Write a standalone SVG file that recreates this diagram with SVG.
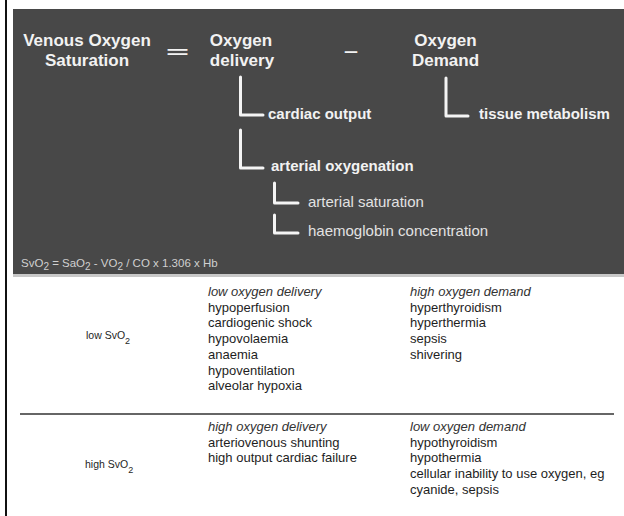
<svg xmlns="http://www.w3.org/2000/svg" width="624" height="516" viewBox="0 0 624 516">
<style>
.hd{font-family:"Liberation Sans",Arial,sans-serif;font-weight:bold;font-size:17px;fill:#f2f2f2;}
.b15{font-family:"Liberation Sans",Arial,sans-serif;font-weight:bold;font-size:15px;fill:#f2f2f2;}
.r15{font-family:"Liberation Sans",Arial,sans-serif;font-size:15px;fill:#e2e2e2;}
.frm{font-family:"Liberation Sans",Arial,sans-serif;font-size:11.5px;fill:#d0d0d0;}
.tb{font-family:"Liberation Sans",Arial,sans-serif;font-size:13px;fill:#1e1e1e;}
.it{font-style:italic;fill:#333;}
.lbl{font-family:"Liberation Sans",Arial,sans-serif;font-size:10.5px;fill:#1e1e1e;}
.conn path{fill:none;stroke:#f4f4f4;stroke-width:3;stroke-linecap:round;stroke-linejoin:round;}
</style>
<rect width="624" height="516" fill="#ffffff"/>
<rect x="5" y="0" width="2" height="516" fill="#111"/>
<g id="panel">
<rect x="13" y="9" width="611" height="265" fill="#484848"/>
<rect x="13" y="274" width="611" height="3" fill="#c8c8c8"/>
</g>
<g id="venous-saturation">
<text class="hd" x="87" y="46" text-anchor="middle">Venous Oxygen</text>
<text class="hd" x="87" y="66" text-anchor="middle">Saturation</text>
</g>
<g id="equals">
<text class="hd" x="166" y="58" font-size="15" textLength="23" lengthAdjust="spacingAndGlyphs">=</text>
</g>
<g id="oxygen-delivery">
<text class="hd" x="241" y="46" text-anchor="middle">Oxygen</text>
<text class="hd" x="242" y="66" text-anchor="middle">delivery</text>
</g>
<g id="minus">
<text class="hd" x="344" y="57" textLength="14" lengthAdjust="spacingAndGlyphs">–</text>
</g>
<g id="oxygen-demand">
<text class="hd" x="445.5" y="46" text-anchor="middle">Oxygen</text>
<text class="hd" x="445.5" y="66" text-anchor="middle">Demand</text>
</g>
<g class="conn" id="connectors">
<path d="M240.5,77 V115 H263"/>
<path d="M240.5,130 V168 H263"/>
<path d="M446,78 V116 H468"/>
<path d="M274.5,183 V203 H298"/>
<path d="M274.5,215 V233 H298"/>
</g>
<g id="cardiac-output"><text class="b15" x="268" y="119">cardiac output</text></g>
<g id="tissue-metabolism"><text class="b15" x="479" y="119">tissue metabolism</text></g>
<g id="arterial-oxygenation"><text class="b15" x="271" y="171">arterial oxygenation</text></g>
<g id="arterial-saturation"><text class="r15" x="308" y="207">arterial saturation</text></g>
<g id="haemoglobin"><text class="r15" x="308" y="236">haemoglobin concentration</text></g>
<g id="formula">
<text class="frm" x="21" y="267">SvO<tspan dy="3" font-size="10">2</tspan><tspan dy="-3"> = SaO</tspan><tspan dy="3" font-size="10">2</tspan><tspan dy="-3"> - VO</tspan><tspan dy="3" font-size="10">2</tspan><tspan dy="-3"> / CO x 1.306 x Hb</tspan></text>
</g>
<g id="low-row">
<text class="lbl" x="86" y="339">low SvO<tspan dy="5" font-size="9">2</tspan></text>
<text class="tb" x="208" y="296"><tspan class="it">low oxygen delivery</tspan><tspan x="208" dy="15.7">hypoperfusion</tspan><tspan x="208" dy="15.7">cardiogenic shock</tspan><tspan x="208" dy="15.7">hypovolaemia</tspan><tspan x="208" dy="15.7">anaemia</tspan><tspan x="208" dy="15.7">hypoventilation</tspan><tspan x="208" dy="15.7">alveolar hypoxia</tspan></text>
<text class="tb" x="410" y="296"><tspan class="it">high oxygen demand</tspan><tspan x="410" dy="15.7">hyperthyroidism</tspan><tspan x="410" dy="15.7">hyperthermia</tspan><tspan x="410" dy="15.7">sepsis</tspan><tspan x="410" dy="15.7">shivering</tspan></text>
</g>
<rect id="separator" x="20" y="413" width="594" height="2" fill="#666"/>
<g id="high-row">
<text class="lbl" x="85" y="468">high SvO<tspan dy="5" font-size="9">2</tspan></text>
<text class="tb" x="208" y="431"><tspan class="it">high oxygen delivery</tspan><tspan x="208" dy="15.7">arteriovenous shunting</tspan><tspan x="208" dy="15.7">high output cardiac failure</tspan></text>
<text class="tb" x="410" y="431"><tspan class="it">low oxygen demand</tspan><tspan x="410" dy="15.7">hypothyroidism</tspan><tspan x="410" dy="15.7">hypothermia</tspan><tspan x="410" dy="15.7">cellular inability to use oxygen, eg</tspan><tspan x="410" dy="15.7">cyanide, sepsis</tspan></text>
</g>
</svg>
